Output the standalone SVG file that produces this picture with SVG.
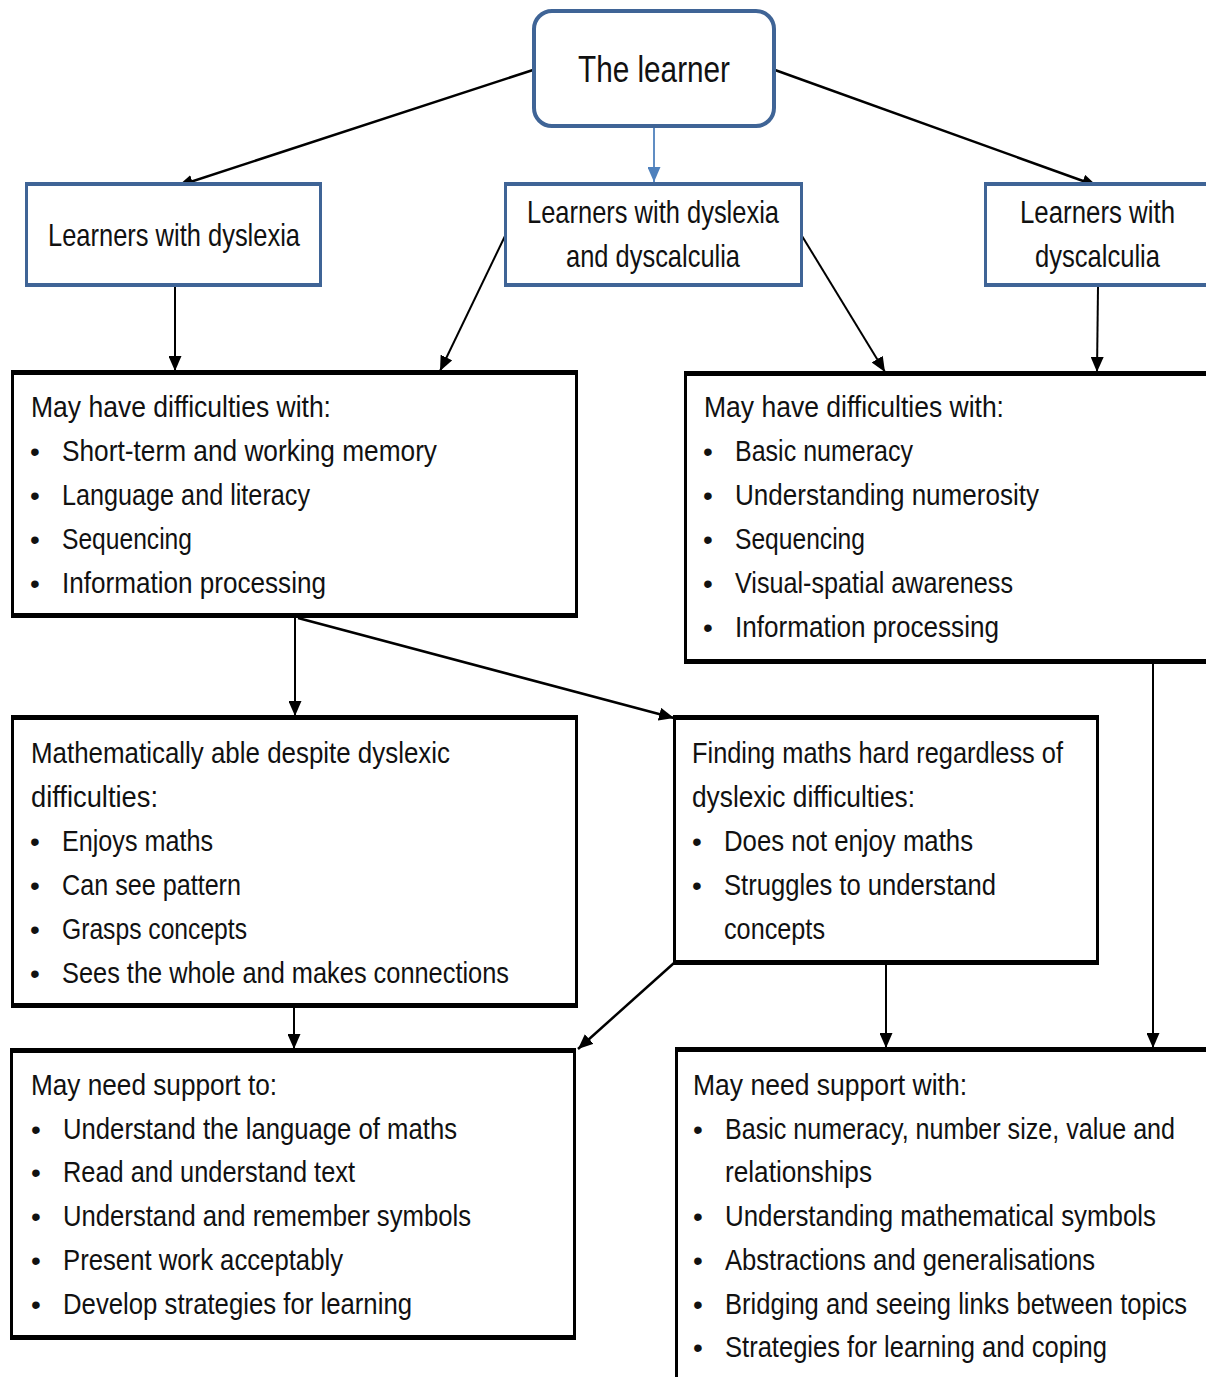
<svg xmlns="http://www.w3.org/2000/svg" width="1206" height="1377" viewBox="0 0 1206 1377">
<style>
.t{font-family:"Liberation Sans Narrow","Liberation Sans",Arial,sans-serif;font-size:30px;fill:#111}
.h{font-size:32px}
.big{font-size:37px}
.b{font-family:"Liberation Sans",Arial,sans-serif;font-size:28px;fill:#111}
.ob{fill:#000}
.obl{fill:#3f6496}
.in{fill:#fff}
.c{fill:none;stroke:#000;stroke-width:2}
.cb{fill:none;stroke:#4f81bd;stroke-width:1.8}
</style>
<defs>
<marker id="ah" markerUnits="userSpaceOnUse" markerWidth="16" markerHeight="13" refX="15" refY="6.5" orient="auto"><path d="M0,0 L15,6.5 L0,13 z" fill="#000"/></marker>
<marker id="ahb" markerUnits="userSpaceOnUse" markerWidth="16" markerHeight="13" refX="15" refY="6.5" orient="auto"><path d="M0,0 L15,6.5 L0,13 z" fill="#4f81bd"/></marker>
</defs>
<rect width="1206" height="1377" fill="#fff"/>

<g id="connectors">
<path class="c" d="M533,70 L178,186" marker-end="url(#ah)" style="stroke-width:2.5"/>
<path class="c" d="M775,70 L1097,186" marker-end="url(#ah)" style="stroke-width:2.5"/>
<path class="cb" d="M654,127 L654,182" marker-end="url(#ahb)"/>
<path class="c" d="M175,287 L175,371" marker-end="url(#ah)"/>
<path class="c" d="M505,236 L440,371" marker-end="url(#ah)"/>
<path class="c" d="M802,236 L885,372" marker-end="url(#ah)"/>
<path class="c" d="M1098,287 L1097,372" marker-end="url(#ah)"/>
<path class="c" d="M295,618 L295,716" marker-end="url(#ah)"/>
<path class="c" d="M298,618 L674,718" marker-end="url(#ah)" style="stroke-width:2.5"/>
<path class="c" d="M1153,664 L1153,1048" marker-end="url(#ah)"/>
<path class="c" d="M294,1008 L294,1049" marker-end="url(#ah)"/>
<path class="c" d="M674,963 L578,1049" marker-end="url(#ah)" style="stroke-width:2.5"/>
<path class="c" d="M886,965 L886,1048" marker-end="url(#ah)"/>
</g>

<g id="learner">
<rect x="534" y="11" width="240" height="115" rx="18" fill="#fff" stroke="#3f6496" stroke-width="4"/>
<text class="t big" x="578" y="82" textLength="152" lengthAdjust="spacingAndGlyphs">The learner</text>
</g>

<g id="dyslexia">
<rect class="obl" x="25" y="182" width="297" height="105"/>
<rect class="in" x="28" y="186" width="291" height="97"/>
<text class="t h" x="48" y="246" textLength="252" lengthAdjust="spacingAndGlyphs">Learners with dyslexia</text>
</g>

<g id="both">
<rect class="obl" x="504" y="182" width="299" height="105"/>
<rect class="in" x="507" y="186" width="293" height="97"/>
<text class="t h" x="527" y="223" textLength="252" lengthAdjust="spacingAndGlyphs">Learners with dyslexia</text>
<text class="t h" x="566" y="267" textLength="174" lengthAdjust="spacingAndGlyphs">and dyscalculia</text>
</g>

<g id="dyscalculia">
<rect class="obl" x="984" y="182" width="222" height="105"/>
<rect class="in" x="987" y="186" width="219" height="97"/>
<text class="t" transform="translate(1020,223) scale(1,1.067)" x="0" y="0" textLength="155" lengthAdjust="spacingAndGlyphs">Learners with</text>
<text class="t h" x="1035" y="267" textLength="125" lengthAdjust="spacingAndGlyphs">dyscalculia</text>
</g>

<g id="boxA">
<rect class="ob" x="11" y="370" width="567" height="248"/>
<rect class="in" x="14" y="375" width="561" height="238"/>
<text class="t" x="31" y="417" textLength="300" lengthAdjust="spacingAndGlyphs">May have difficulties with:</text>
<text class="b" x="30" y="461">•</text><text class="t" x="62" y="461" textLength="375" lengthAdjust="spacingAndGlyphs">Short-term and working memory</text>
<text class="b" x="30" y="505">•</text><text class="t" x="62" y="505" textLength="248" lengthAdjust="spacingAndGlyphs">Language and literacy</text>
<text class="b" x="30" y="549">•</text><text class="t" x="62" y="549" textLength="130" lengthAdjust="spacingAndGlyphs">Sequencing</text>
<text class="b" x="30" y="593">•</text><text class="t" x="62" y="593" textLength="264" lengthAdjust="spacingAndGlyphs">Information processing</text>
</g>

<g id="boxB">
<rect class="ob" x="684" y="371" width="522" height="293"/>
<rect class="in" x="687" y="376" width="519" height="283"/>
<text class="t" x="704" y="417" textLength="300" lengthAdjust="spacingAndGlyphs">May have difficulties with:</text>
<text class="b" x="703" y="461">•</text><text class="t" x="735" y="461" textLength="178" lengthAdjust="spacingAndGlyphs">Basic numeracy</text>
<text class="b" x="703" y="505">•</text><text class="t" x="735" y="505" textLength="304" lengthAdjust="spacingAndGlyphs">Understanding numerosity</text>
<text class="b" x="703" y="549">•</text><text class="t" x="735" y="549" textLength="130" lengthAdjust="spacingAndGlyphs">Sequencing</text>
<text class="b" x="703" y="593">•</text><text class="t" x="735" y="593" textLength="278" lengthAdjust="spacingAndGlyphs">Visual-spatial awareness</text>
<text class="b" x="703" y="637">•</text><text class="t" x="735" y="637" textLength="264" lengthAdjust="spacingAndGlyphs">Information processing</text>
</g>

<g id="boxC">
<rect class="ob" x="11" y="715" width="567" height="293"/>
<rect class="in" x="14" y="720" width="561" height="283"/>
<text class="t" x="31" y="763" textLength="419" lengthAdjust="spacingAndGlyphs">Mathematically able despite dyslexic</text>
<text class="t" x="31" y="807" textLength="127" lengthAdjust="spacingAndGlyphs">difficulties:</text>
<text class="b" x="30" y="851">•</text><text class="t" x="62" y="851" textLength="151" lengthAdjust="spacingAndGlyphs">Enjoys maths</text>
<text class="b" x="30" y="895">•</text><text class="t" x="62" y="895" textLength="179" lengthAdjust="spacingAndGlyphs">Can see pattern</text>
<text class="b" x="30" y="939">•</text><text class="t" x="62" y="939" textLength="185" lengthAdjust="spacingAndGlyphs">Grasps concepts</text>
<text class="b" x="30" y="983">•</text><text class="t" x="62" y="983" textLength="447" lengthAdjust="spacingAndGlyphs">Sees the whole and makes connections</text>
</g>

<g id="boxD">
<rect class="ob" x="673" y="715" width="426" height="250"/>
<rect class="in" x="676" y="720" width="420" height="240"/>
<text class="t" x="692" y="763" textLength="371" lengthAdjust="spacingAndGlyphs">Finding maths hard regardless of</text>
<text class="t" x="692" y="807" textLength="223" lengthAdjust="spacingAndGlyphs">dyslexic difficulties:</text>
<text class="b" x="692" y="851">•</text><text class="t" x="724" y="851" textLength="249" lengthAdjust="spacingAndGlyphs">Does not enjoy maths</text>
<text class="b" x="692" y="895">•</text><text class="t" x="724" y="895" textLength="272" lengthAdjust="spacingAndGlyphs">Struggles to understand</text>
<text class="t" x="724" y="939" textLength="101" lengthAdjust="spacingAndGlyphs">concepts</text>
</g>

<g id="boxE">
<rect class="ob" x="10" y="1048" width="566" height="292"/>
<rect class="in" x="13" y="1053" width="560" height="282"/>
<text class="t" x="31" y="1095" textLength="246" lengthAdjust="spacingAndGlyphs">May need support to:</text>
<text class="b" x="31" y="1139">•</text><text class="t" x="63" y="1139" textLength="394" lengthAdjust="spacingAndGlyphs">Understand the language of maths</text>
<text class="b" x="31" y="1182">•</text><text class="t" x="63" y="1182" textLength="292" lengthAdjust="spacingAndGlyphs">Read and understand text</text>
<text class="b" x="31" y="1226">•</text><text class="t" x="63" y="1226" textLength="408" lengthAdjust="spacingAndGlyphs">Understand and remember symbols</text>
<text class="b" x="31" y="1270">•</text><text class="t" x="63" y="1270" textLength="280" lengthAdjust="spacingAndGlyphs">Present work acceptably</text>
<text class="b" x="31" y="1314">•</text><text class="t" x="63" y="1314" textLength="349" lengthAdjust="spacingAndGlyphs">Develop strategies for learning</text>
</g>

<g id="boxF">
<rect class="ob" x="675" y="1047" width="531" height="330"/>
<rect class="in" x="678" y="1052" width="528" height="325"/>
<text class="t" x="693" y="1095" textLength="274" lengthAdjust="spacingAndGlyphs">May need support with:</text>
<text class="b" x="693" y="1139">•</text><text class="t" transform="translate(725,1139) scale(1,1.132)" x="0" y="0" style="font-size:26.5px" textLength="450" lengthAdjust="spacingAndGlyphs">Basic numeracy, number size, value and</text>
<text class="t" x="725" y="1182" textLength="147" lengthAdjust="spacingAndGlyphs">relationships</text>
<text class="b" x="693" y="1226">•</text><text class="t" transform="translate(725,1226) scale(1,1.053)" x="0" y="0" style="font-size:28.5px" textLength="431" lengthAdjust="spacingAndGlyphs">Understanding mathematical symbols</text>
<text class="b" x="693" y="1270">•</text><text class="t" x="725" y="1270" textLength="370" lengthAdjust="spacingAndGlyphs">Abstractions and generalisations</text>
<text class="b" x="693" y="1314">•</text><text class="t" transform="translate(725,1314) scale(1,1.132)" x="0" y="0" style="font-size:26.5px" textLength="462" lengthAdjust="spacingAndGlyphs">Bridging and seeing links between topics</text>
<text class="b" x="693" y="1357">•</text><text class="t" x="725" y="1357" textLength="382" lengthAdjust="spacingAndGlyphs">Strategies for learning and coping</text>
</g>
</svg>
